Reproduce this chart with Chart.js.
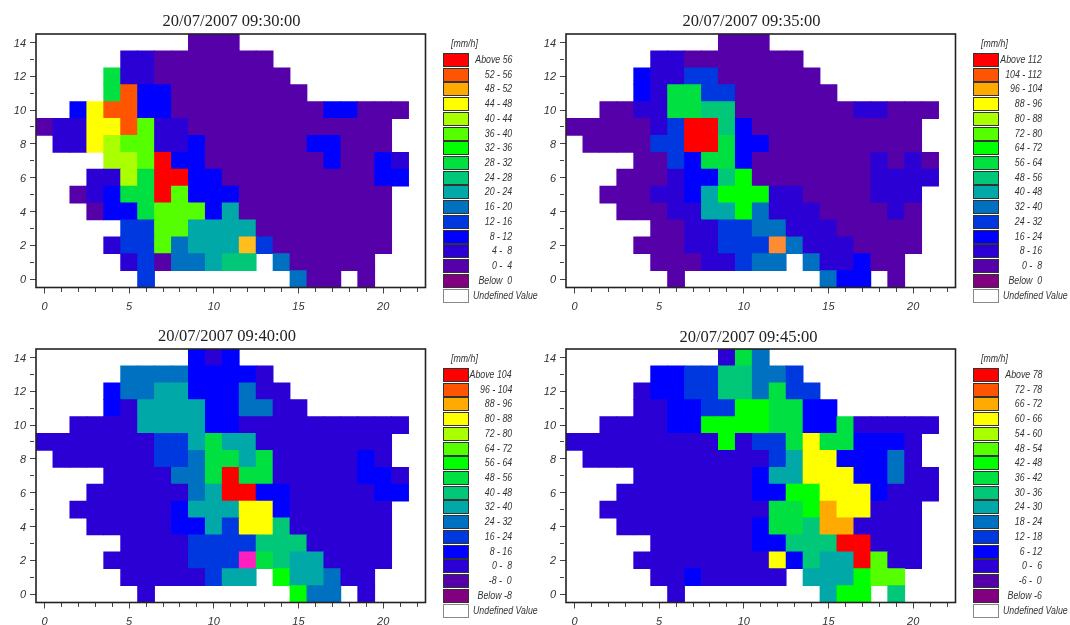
<!DOCTYPE html>
<html>
<head>
<meta charset="utf-8">
<title>Rainfall maps</title>
<script src="https://cdn.jsdelivr.net/npm/chart.js@4"></script>
<style>
  html, body { margin: 0; padding: 0; background: #fff; }
  body { position: relative; width: 1070px; height: 625px; overflow: hidden; }
  canvas { position: absolute; }
  .title {
    position: absolute; width: 300px; text-align: center; white-space: nowrap;
    font: 16.5px "Liberation Serif", serif; color: #222;
  }
  .unit, .key span {
    position: absolute; white-space: pre;
    font: italic 11px "Liberation Sans", sans-serif; color: #333;
    transform: scaleX(0.8);
  }
  .unit { transform-origin: left top; }
  .key span { transform-origin: right top; }
  .key span.undef { transform-origin: left top; }
  .key i { position: absolute; width: 24px; height: 12px; border: 1px solid #333; }
</style>
</head>
<body>
<script>
const _ = null;

// rain rate per cell in mm/h (middle of the class shown), rows from y = 14 down to y = 0
const rows0930 = [
  [_,_,_,_,_,_,_,_,_,2,2,2,_,_,_,_,_,_,_,_,_,_],
  [_,_,_,_,_,6,6,2,2,2,2,2,2,2,_,_,_,_,_,_,_,_],
  [_,_,_,_,30,6,6,2,2,2,2,2,2,2,2,_,_,_,_,_,_,_],
  [_,_,_,_,30,54,10,10,2,2,2,2,2,2,2,2,_,_,_,_,_,_],
  [_,_,10,46,54,54,10,10,2,2,2,2,2,2,2,2,2,10,10,2,2,2],
  [2,6,6,46,46,54,38,6,6,2,2,2,2,2,2,2,2,2,2,2,2,_],
  [_,6,6,46,42,38,38,6,6,10,2,2,2,2,2,2,10,10,2,2,2,_],
  [_,_,_,_,42,42,38,58,10,10,2,2,2,2,2,2,2,10,2,2,10,6],
  [_,_,_,6,6,42,30,58,58,10,10,2,2,2,2,2,2,2,2,2,10,10],
  [_,_,2,6,10,30,30,58,38,10,10,10,2,2,2,2,2,2,2,2,2,_],
  [_,_,_,2,10,10,30,38,38,38,10,22,2,2,2,2,2,2,2,2,2,_],
  [_,_,_,_,_,14,14,38,38,22,22,22,22,2,2,2,2,2,2,2,2,_],
  [_,_,_,_,6,14,14,38,18,22,22,22,50,14,2,2,2,2,2,2,2,_],
  [_,_,_,_,_,6,14,2,18,18,22,26,26,_,18,2,2,2,2,2,_,_],
  [_,_,_,_,_,_,14,_,_,_,_,_,_,_,_,18,2,2,_,2,_,_]
];
const rows0935 = [
  [_,_,_,_,_,_,_,_,_,4,4,4,_,_,_,_,_,_,_,_,_,_],
  [_,_,_,_,_,12,12,4,4,4,4,4,4,4,_,_,_,_,_,_,_,_],
  [_,_,_,_,20,12,12,28,28,4,4,4,4,4,4,_,_,_,_,_,_,_],
  [_,_,_,_,20,12,60,60,28,28,4,4,4,4,4,4,_,_,_,_,_,_],
  [_,_,4,4,12,12,60,60,52,52,4,4,4,4,4,4,4,12,12,4,4,4],
  [4,4,4,4,4,12,28,116,116,52,20,4,4,4,4,4,4,4,4,4,4,_],
  [_,4,4,4,4,28,28,116,116,60,20,20,4,4,4,4,4,4,4,4,4,_],
  [_,_,_,_,4,4,28,20,60,60,20,4,4,4,4,4,4,4,12,4,12,4],
  [_,_,_,4,4,4,12,20,20,52,68,4,4,4,4,4,4,4,12,12,12,12],
  [_,_,4,4,4,12,12,20,44,68,68,68,12,12,4,4,4,4,12,12,12,_],
  [_,_,_,4,4,4,12,12,44,44,68,36,12,12,12,4,4,4,4,12,4,_],
  [_,_,_,_,_,4,4,12,12,28,28,36,36,12,12,12,4,4,4,4,4,_],
  [_,_,_,_,4,4,4,12,12,28,28,28,100,36,12,12,12,4,4,4,4,_],
  [_,_,_,_,_,4,4,4,12,12,28,36,36,_,36,12,12,20,4,4,_,_],
  [_,_,_,_,_,_,4,_,_,_,_,_,_,_,_,36,20,20,_,4,_,_]
];
const rows0940 = [
  [_,_,_,_,_,_,_,_,_,12,4,12,_,_,_,_,_,_,_,_,_,_],
  [_,_,_,_,_,28,28,28,28,12,12,12,12,4,_,_,_,_,_,_,_,_],
  [_,_,_,_,12,28,28,36,36,12,12,12,28,4,4,_,_,_,_,_,_,_],
  [_,_,_,_,12,4,36,36,36,36,12,12,28,28,4,4,_,_,_,_,_,_],
  [_,_,4,4,4,4,36,36,36,36,12,12,4,4,4,4,4,4,4,4,4,4],
  [4,4,4,4,4,4,4,20,20,36,52,36,36,4,4,4,4,4,4,4,4,_],
  [_,4,4,4,4,4,4,20,20,28,52,52,36,52,4,4,4,4,4,12,4,_],
  [_,_,_,_,4,4,4,4,28,28,52,108,52,52,4,4,4,4,4,12,12,4],
  [_,_,_,4,4,4,4,4,4,28,36,108,108,12,12,4,4,4,4,4,12,12],
  [_,_,4,4,4,4,4,4,12,36,36,36,84,84,12,4,4,4,4,4,4,_],
  [_,_,_,4,4,4,4,4,12,12,36,20,84,84,44,4,4,4,4,4,4,_],
  [_,_,_,_,_,4,4,4,4,20,20,20,20,44,44,44,4,4,4,4,4,_],
  [_,_,_,_,4,4,4,4,4,20,20,20,100,52,44,36,36,4,4,4,4,_],
  [_,_,_,_,_,4,4,4,4,4,20,36,36,_,60,36,36,28,4,4,_,_],
  [_,_,_,_,_,_,4,_,_,_,_,_,_,_,_,60,28,28,_,4,_,_]
];
const rows0945 = [
  [_,_,_,_,_,_,_,_,_,3,39,21,_,_,_,_,_,_,_,_,_,_],
  [_,_,_,_,_,9,9,15,15,33,33,21,21,15,_,_,_,_,_,_,_,_],
  [_,_,_,_,3,9,9,15,15,33,33,21,39,15,15,_,_,_,_,_,_,_],
  [_,_,_,_,3,3,9,9,15,15,45,45,39,39,9,9,_,_,_,_,_,_],
  [_,_,3,3,3,3,9,9,45,45,45,45,39,39,9,9,39,3,3,3,3,3],
  [3,3,3,3,3,3,3,3,3,45,3,15,15,39,63,39,39,9,9,9,3,_],
  [_,3,3,3,3,3,3,3,3,3,3,3,15,27,63,63,9,9,9,21,3,_],
  [_,_,_,_,3,3,3,3,3,3,3,9,27,27,63,63,63,9,9,21,3,3],
  [_,_,_,3,3,3,3,3,3,3,3,9,9,45,45,63,63,63,9,3,3,3],
  [_,_,3,3,3,3,3,3,3,3,3,3,39,39,45,69,63,63,3,3,3,_],
  [_,_,_,3,3,3,3,3,3,3,3,9,39,39,33,69,69,3,3,3,3,_],
  [_,_,_,_,_,3,3,3,3,3,3,9,9,33,33,33,81,81,3,3,3,_],
  [_,_,_,_,3,3,3,3,3,3,3,3,63,9,33,27,27,81,51,3,3,_],
  [_,_,_,_,_,3,3,9,3,3,3,3,3,_,27,27,27,45,51,51,_,_],
  [_,_,_,_,_,_,3,_,_,_,_,_,_,_,_,27,45,45,_,33,_,_]
];

// class limits of each map's legend
const breaks0930 = [0, 4, 8, 12, 16, 20, 24, 28, 32, 36, 40, 44, 48, 52, 56];
const breaks0935 = [0, 8, 16, 24, 32, 40, 48, 56, 64, 72, 80, 88, 96, 104, 112];
const breaks0940 = [-8, 0, 8, 16, 24, 32, 40, 48, 56, 64, 72, 80, 88, 96, 104];
const breaks0945 = [-6, 0, 6, 12, 18, 24, 30, 36, 42, 48, 54, 60, 66, 72, 78];

const mapTitles = ['20/07/2007 09:30:00', '20/07/2007 09:35:00', '20/07/2007 09:40:00', '20/07/2007 09:45:00'];

// below lowest class first, above highest class last
const classColors = ['#800080', '#5500A8', '#2A00D5', '#0000FF', '#0038E0', '#0070C0', '#00A8A8', '#00C878',
  '#00E040', '#00FF00', '#55FF00', '#AAFF00', '#FFFF00', '#FFAA00', '#FF5500', '#FF0000'];

// the gauge cell at (12, 2) has its own colour in the first three maps
const gaugeColors = ['#FFBE1E', '#FF8C32', '#FF1EBE', null];

const panels = [
  { left: 0, top: 0, height: 315, titleX: 231.5, titleY: 11, keyX: 443, keyY: 53, rows: rows0930, breaks: breaks0930 },
  { left: 530, top: 0, height: 315, titleX: 751.5, titleY: 11, keyX: 973, keyY: 53, rows: rows0935, breaks: breaks0935 },
  { left: 0, top: 315, height: 310, titleX: 227, titleY: 326, keyX: 443, keyY: 368, rows: rows0940, breaks: breaks0940 },
  { left: 530, top: 315, height: 310, titleX: 748.5, titleY: 327, keyX: 973, keyY: 368, rows: rows0945, breaks: breaks0945 }
];

function colorFor(value, breaks) {
  let i = 0;
  while (i < breaks.length && value >= breaks[i]) i++;
  return classColors[i];
}

function cellsFrom(rows) {
  const cells = [];
  rows.forEach((row, r) => {
    const y = 14 - r;
    row.forEach((value, x) => {
      if (value !== null) cells.push({ x: x, y: [y - 0.5, y + 0.5], v: value });
    });
  });
  return cells;
}

function addText(tag, cls, text, x, y) {
  const el = document.createElement(tag);
  el.className = cls;
  el.textContent = text;
  el.style.left = x + 'px';
  el.style.top = y + 'px';
  document.body.appendChild(el);
  return el;
}

function addLegend(p) {
  const b = p.breaks;
  const labels = ['Above ' + b[b.length - 1]];
  for (let i = b.length - 1; i > 0; i--) {
    labels.push(b[i - 1] + ' - ' + String(b[i]).padStart(2, ' '));
  }
  labels.push('Below ' + String(b[0]).padStart(2, ' '));
  labels.push('Undefined Value');

  addText('div', 'unit', '[mm/h]', p.keyX + 8, p.keyY - 16);
  const key = document.createElement('div');
  key.className = 'key';
  labels.forEach((label, i) => {
    const y = p.keyY + i * 14.72;
    const box = document.createElement('i');
    box.style.left = p.keyX + 'px';
    box.style.top = y + 'px';
    box.style.background = i === 16 ? '#fff' : classColors[15 - i];
    if (i === 16) box.style.borderColor = '#888';
    key.appendChild(box);

    const text = document.createElement('span');
    text.textContent = label;
    text.style.top = y + 'px';
    if (i === 16) {
      text.className = 'undef';
      text.style.left = (p.keyX + 30) + 'px';
    } else {
      text.style.right = (1070 - p.keyX - 69) + 'px';
    }
    key.appendChild(text);
  });
  document.body.appendChild(key);
}

// top and right edge of the map frame
const framePlugin = {
  id: 'mapFrame',
  afterDatasetsDraw(chart) {
    const a = chart.chartArea;
    const ctx = chart.ctx;
    ctx.save();
    ctx.strokeStyle = '#222';
    ctx.lineWidth = 1.6;
    ctx.strokeRect(a.left, a.top, a.right - a.left, a.bottom - a.top);
    ctx.restore();
  }
};

panels.forEach((p, n) => {
  const canvas = document.createElement('canvas');
  canvas.width = 440;
  canvas.height = p.height;
  canvas.style.left = p.left + 'px';
  canvas.style.top = p.top + 'px';
  document.body.appendChild(canvas);

  addText('div', 'title', mapTitles[n], p.titleX - 150, p.titleY);

  new Chart(canvas.getContext('2d'), {
    type: 'bar',
    data: {
      datasets: [{
        data: cellsFrom(p.rows),
        backgroundColor: ctx => {
          const c = ctx.raw;
          if (c.x === 12 && c.y[0] === 1.5 && gaugeColors[n]) return gaugeColors[n];
          return colorFor(c.v, p.breaks);
        },
        barPercentage: 1,
        categoryPercentage: 1,
        grouped: false,
        borderWidth: 0,
        inflateAmount: 0.4
      }]
    },
    plugins: [framePlugin],
    options: {
      responsive: false,
      animation: false,
      layout: { padding: { top: 34, right: 14.5, left: 0, bottom: 0 } },
      plugins: { legend: { display: false }, tooltip: { enabled: false } },
      scales: {
        x: {
          type: 'linear',
          offset: false,
          min: -0.5,
          max: 22.5,
          afterBuildTicks: axis => {
            axis.ticks = [];
            for (let i = 0; i <= 22; i++) axis.ticks.push({ value: i });
          },
          afterFit: axis => { axis.height = p.height - 34 - 253.5; },
          grid: {
            drawOnChartArea: false,
            offset: false,
            tickLength: 6,
            tickColor: '#444',
            tickBorderDash: ctx => (ctx.tick && ctx.tick.value % 5 === 0 ? [] : [4, 8])
          },
          border: { display: false },
          ticks: {
            autoSkip: false,
            maxRotation: 0,
            padding: 7,
            color: '#333',
            font: { family: '"Liberation Sans"', size: 11, style: 'italic' },
            callback: v => (v % 5 === 0 ? String(v) : '')
          }
        },
        y: {
          min: -0.5,
          max: 14.5,
          afterBuildTicks: axis => {
            axis.ticks = [];
            for (let i = 0; i <= 14; i++) axis.ticks.push({ value: i });
          },
          afterFit: axis => { axis.width = 36; },
          grid: {
            drawOnChartArea: false,
            tickLength: 6,
            tickColor: '#444',
            tickBorderDash: ctx => (ctx.tick && ctx.tick.value % 2 === 0 ? [] : [4, 8])
          },
          border: { display: false },
          ticks: {
            autoSkip: false,
            padding: 4,
            labelOffset: 1,
            color: '#333',
            font: { family: '"Liberation Sans"', size: 11, style: 'italic' },
            callback: v => (v % 2 === 0 ? String(v) : '')
          }
        }
      }
    }
  });

  addLegend(p);
});
</script>
</body>
</html>
